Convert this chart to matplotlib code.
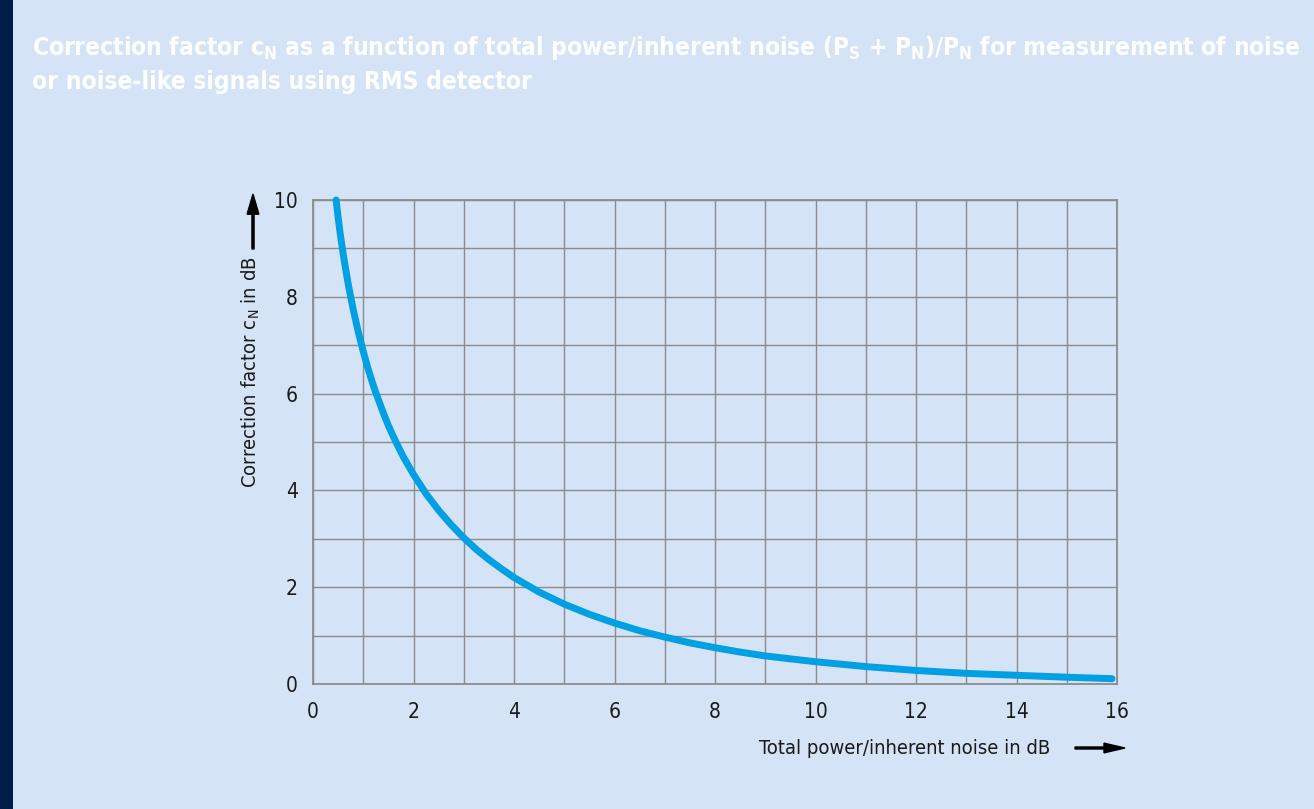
import matplotlib
matplotlib.use("Agg")
import matplotlib.pyplot as plt
from matplotlib.patches import Rectangle, FancyArrow

# Data
x_vals = [0.46, 0.5, 0.55, 0.6, 0.65, 0.7, 0.75, 0.8, 0.9, 1.0, 1.1, 1.2, 1.25, 1.4, 1.5, 1.6,
          1.75, 1.8, 2.0, 2.25, 2.5, 2.75, 3.0, 3.25, 3.5, 3.75, 4.0, 4.5,
          5.0, 5.5, 6.0, 6.5, 7.0, 7.5, 8.0, 8.5, 9.0, 9.5, 10.0, 11.0, 12.0, 13.0, 14.0, 15.0, 15.9]
cn_vals = [10.0, 9.64, 9.24, 8.89, 8.57, 8.27, 8.00, 7.74, 7.28, 6.87, 6.50, 6.17, 6.02, 5.60, 5.34, 5.11,
           4.79, 4.69, 4.33, 3.93, 3.59, 3.29, 3.02, 2.78, 2.57, 2.38, 2.20, 1.90,
           1.65, 1.44, 1.26, 1.10, 0.97, 0.85, 0.75, 0.66, 0.58, 0.52, 0.46, 0.36, 0.28, 0.22, 0.18, 0.14, 0.11]
x_ticks = [0, 2, 4, 6, 8, 10, 12, 14, 16]
y_ticks = [0, 2, 4, 6, 8, 10]

title_line1 = ("Correction factor c$_\\mathregular{N}$ as a function of total power/inherent noise "
               "(P$_\\mathregular{S}$ + P$_\\mathregular{N}$)/P$_\\mathregular{N}$ for measurement of noise")
title_line2 = "or noise-like signals using RMS detector"
xlabel_text = "Total power/inherent noise in dB"
ylabel_text = "Correction factor c$_\\mathregular{N}$ in dB"

BG = "#d4e3f5"
plt.rcParams['font.family'] = ["DejaVu Sans"]
plt.rcParams['font.stretch'] = "condensed"

fig = plt.figure(figsize=(13.14, 8.09), dpi=100, facecolor=BG)
fig.patches.append(Rectangle((0, 0), 13 / 1314, 1, transform=fig.transFigure,
                             facecolor="#001c48", edgecolor="none", zorder=5))

ax = fig.add_axes([313 / 1314, 1 - 684 / 809, 804 / 1314, 484 / 809])
ax.set_facecolor(BG)
ax.plot(x_vals, cn_vals, color="#00a0e3", lw=5, solid_capstyle="round",
        solid_joinstyle="round", zorder=3, clip_on=False)
ax.set_xlim(0, 16)
ax.set_ylim(0, 10)
ax.set_xticks(range(0, 17))
ax.set_yticks(range(0, 11))
ax.grid(True, color="#8c8c8c", lw=1)
ax.set_axisbelow(True)
for s in ax.spines.values():
    s.set_color("#8c8c8c")
    s.set_linewidth(1.3)
ax.tick_params(length=0, labelsize=15, colors="#1a1a1a")
ax.set_xticklabels([str(v) if v in x_ticks else "" for v in range(0, 17)])
ax.set_yticklabels([str(v) if v in y_ticks else "" for v in range(0, 11)])
ax.tick_params(axis="y", pad=11)
ax.tick_params(axis="x", pad=13)

fig.text(32 / 1314, 1 - 55 / 809, title_line1, color="white", fontsize=17.6, fontweight="bold",
         ha="left", va="baseline")
fig.text(32 / 1314, 1 - 89 / 809, title_line2, color="white", fontsize=17.6, fontweight="bold",
         ha="left", va="baseline")

fig.text(1050 / 1314, 1 - 748 / 809, xlabel_text, color="#1a1a1a", fontsize=14.5,
         ha="right", va="center")
fig.text(251 / 1314, 1 - 372 / 809, ylabel_text, color="#1a1a1a", fontsize=14.5,
         ha="center", va="center", rotation=90)

# arrows
fig.patches.append(FancyArrow(1075 / 1314, 1 - 748 / 809, 50 / 1314, 0, transform=fig.transFigure,
                              width=0.0025, head_width=0.012, head_length=0.016,
                              length_includes_head=True, color="black"))
fig.patches.append(FancyArrow(253 / 1314, 1 - 249 / 809, 0, 55 / 809, transform=fig.transFigure,
                              width=0.0016, head_width=0.009, head_length=0.025,
                              length_includes_head=True, color="black"))

fig.savefig("out.png", dpi=100, facecolor=BG)
